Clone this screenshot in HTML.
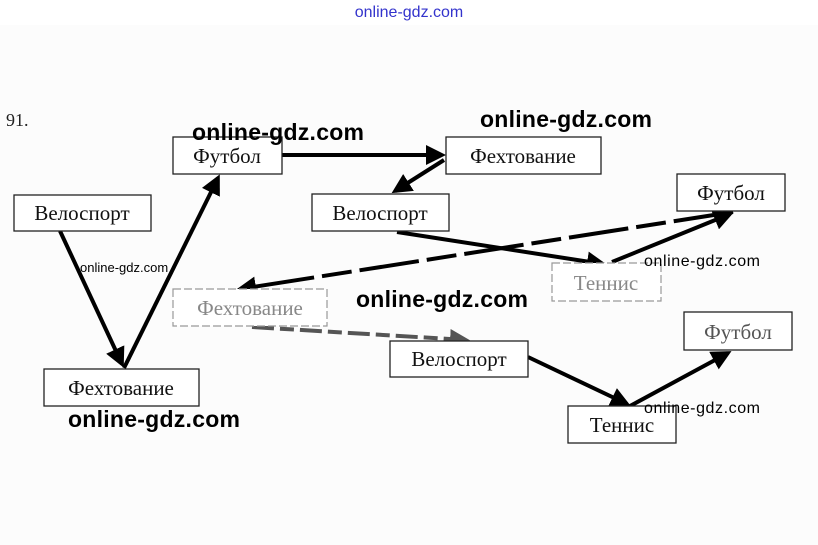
<!DOCTYPE html>
<html><head><meta charset="utf-8"><style>
body{margin:0;background:#fff;width:818px;height:545px;overflow:hidden}
svg{display:block}
.b{fill:#fff;stroke:#222;stroke-width:1.3}
.f{fill:#fff;stroke:#999;stroke-width:1.2;stroke-dasharray:8 3}
.t{font-family:"Liberation Serif",serif;font-size:21px;fill:#111;text-anchor:middle}
.tf{font-family:"Liberation Serif",serif;font-size:21px;fill:#888;text-anchor:middle}
.w{font-family:"Liberation Sans",sans-serif;font-weight:bold;fill:#000}
.ws{font-family:"Liberation Sans",sans-serif;fill:#000;font-size:16px}
.l{stroke:#000;stroke-width:4;fill:none}
.g{stroke:#555;stroke-width:4;fill:none;stroke-dasharray:22 6 14 6}
</style></head><body>
<svg width="818" height="545" viewBox="0 0 818 545">
<defs>
<marker id="a" markerWidth="5" markerHeight="5" refX="4" refY="2.5" orient="auto" markerUnits="strokeWidth"><path d="M0,0 L5,2.5 L0,5 Z" fill="#000"/></marker>
<marker id="ag" markerWidth="5" markerHeight="5" refX="4" refY="2.5" orient="auto" markerUnits="strokeWidth"><path d="M0,0 L5,2.5 L0,5 Z" fill="#555"/></marker>
</defs>
<rect x="0" y="25" width="818" height="520" fill="#fcfcfc"/>
<text x="409" y="17" font-family="Liberation Sans,sans-serif" font-size="16" fill="#3333cc" text-anchor="middle">online-gdz.com</text>
<text x="6" y="126" font-family="Liberation Serif,serif" font-size="18" fill="#222">91.</text>

<line class="l" x1="60" y1="231" x2="122" y2="364" marker-end="url(#a)"/>
<line class="l" x1="124" y1="368" x2="218" y2="178" marker-end="url(#a)"/>
<line class="l" x1="282" y1="155" x2="442" y2="155" marker-end="url(#a)"/>
<line class="l" x1="444" y1="160" x2="395" y2="191" marker-end="url(#a)"/>
<line class="l" x1="397" y1="232" x2="603" y2="264" marker-end="url(#a)"/>
<line class="l" x1="612" y1="262" x2="730" y2="214" marker-end="url(#a)"/>
<line class="l" x1="733" y1="212" x2="240" y2="289" stroke-dasharray="60 8 30 8" marker-end="url(#a)"/>
<line class="g" x1="252" y1="327" x2="466" y2="340" marker-end="url(#ag)"/>
<line class="l" x1="528" y1="357" x2="627" y2="404" marker-end="url(#a)"/>
<line class="l" x1="630" y1="406" x2="728" y2="353" marker-end="url(#a)"/>

<rect class="b" x="14" y="195" width="137" height="36"/><text class="t" x="82" y="220">Велоспорт</text>
<rect class="b" x="173" y="137" width="109" height="37"/><text class="t" x="227" y="163">Футбол</text>
<rect class="b" x="446" y="137" width="155" height="37"/><text class="t" x="523" y="163">Фехтование</text>
<rect class="b" x="312" y="194" width="137" height="37"/><text class="t" x="380" y="220">Велоспорт</text>
<rect class="b" x="677" y="174" width="108" height="37"/><text class="t" x="731" y="200">Футбол</text>
<rect class="f" x="552" y="263" width="109" height="38"/><text class="tf" x="606" y="290">Теннис</text>
<rect class="f" x="173" y="289" width="154" height="37"/><text class="tf" x="250" y="315">Фехтование</text>
<rect class="b" x="390" y="341" width="138" height="36"/><text class="t" x="459" y="366">Велоспорт</text>
<rect class="b" x="684" y="312" width="108" height="38"/><text class="tf" x="738" y="339" style="fill:#555">Футбол</text>
<rect class="b" x="44" y="369" width="155" height="37"/><text class="t" x="121" y="395">Фехтование</text>
<rect class="b" x="568" y="406" width="108" height="37"/><text class="t" x="622" y="432">Теннис</text>

<text class="w" x="192" y="140" font-size="23" textLength="172">online-gdz.com</text>
<text class="w" x="480" y="127" font-size="23" textLength="172">online-gdz.com</text>
<text class="w" x="356" y="307" font-size="23" textLength="172">online-gdz.com</text>
<text class="w" x="68" y="427" font-size="23" textLength="172">online-gdz.com</text>
<text class="ws" x="80" y="272" style="font-size:13px">online-gdz.com</text>
<text class="ws" x="644" y="266" textLength="116">online-gdz.com</text>
<text class="ws" x="644" y="413" textLength="116">online-gdz.com</text>
</svg>
</body></html>
